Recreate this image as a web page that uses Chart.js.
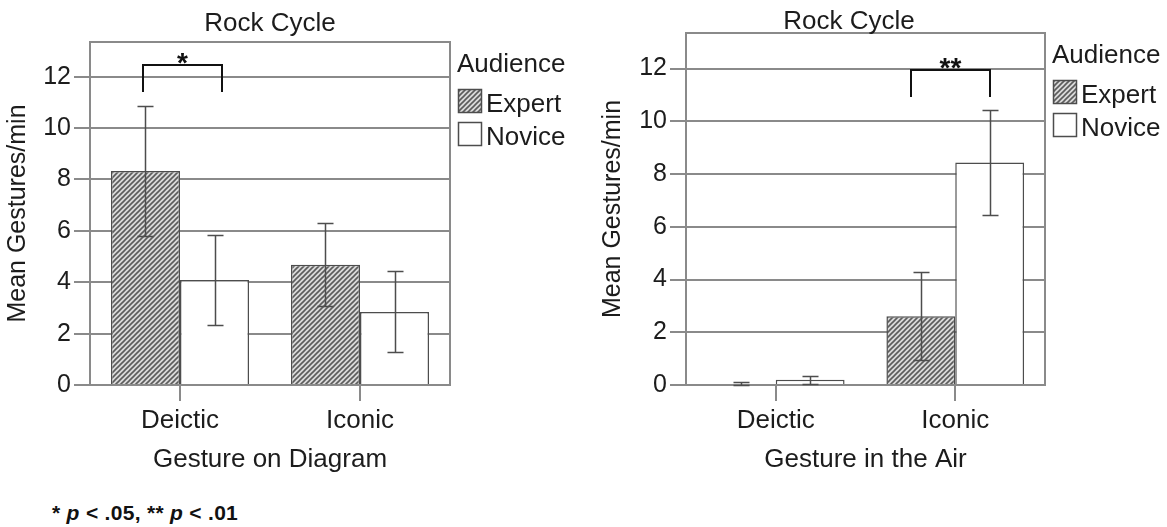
<!DOCTYPE html>
<html>
<head>
<meta charset="utf-8">
<script src="https://cdn.jsdelivr.net/npm/chart.js@4/dist/chart.umd.min.js"></script>
<style>
    body { margin: 0; background: #fff; width: 1167px; height: 527px; position: relative; overflow: hidden; }
    #diagram-wrap { position: absolute; left: 0; top: 0; }
    #air-wrap { position: absolute; left: 580px; top: 0; }
    #footnote {
        position: absolute; left: 52px; top: 502px;
        font: bold 21px/21px "Liberation Sans", Arial, sans-serif;
        letter-spacing: 0.3px;
        color: #111; white-space: pre;
    }
</style>
</head>
<body>
<div id="diagram-wrap"><canvas id="chart-diagram" width="580" height="480"></canvas></div>
<div id="air-wrap"><canvas id="chart-air" width="587" height="480"></canvas></div>
<div id="footnote">* <i>p</i> &lt; .05, ** <i>p</i> &lt; .01</div>
<script>
// Categories / series / ticks
const categories = ["Deictic", "Iconic"];
const seriesNames = ["Expert", "Novice"];
const yTicks = [0, 2, 4, 6, 8, 10, 12];
const yMax = 13.35;

// Gesture on Diagram (means + error bar ends)
const diagramExpert = [8.33, 4.68];
const diagramNovice = [4.09, 2.84];
const diagramExpertLow = [5.78, 3.08];
const diagramExpertHigh = [10.86, 6.32];
const diagramNoviceLow = [2.33, 1.28];
const diagramNoviceHigh = [5.84, 4.42];

// Gesture in the Air
const airExpert = [0.03, 2.61];
const airNovice = [0.2, 8.44];
const airExpertLow = [0, 0.93];
const airExpertHigh = [0.11, 4.28];
const airNoviceLow = [0.05, 6.43];
const airNoviceHigh = [0.34, 10.42];

// Significance brackets (category index, span as fraction of category width, y values)
const diagramBracket = { index: 0, from: -0.204, to: 0.233, top: 12.45, leg: 11.39, label: "*" };
const airBracket = { index: 1, from: -0.245, to: 0.195, top: 11.95, leg: 10.92, label: "**" };

const FONT = '"Liberation Sans", Arial, sans-serif';
const TEXT = "#1c1c1c";
const GRID = "#8a8a8a";
const DARK = "#4d4d4d";

// Diagonal hatch for the Expert bars
function makeHatch(ctx) {
    const s = 5;
    const tile = document.createElement("canvas");
    tile.width = s;
    tile.height = s;
    const g = tile.getContext("2d");
    g.fillStyle = "#dadada";
    g.fillRect(0, 0, s, s);
    g.strokeStyle = "#5c5c5c";
    g.lineWidth = 1.6;
    g.beginPath();
    g.moveTo(-1, s + 1); g.lineTo(s + 1, -1);
    g.moveTo(-1, 1); g.lineTo(1, -1);
    g.moveTo(s - 1, s + 1); g.lineTo(s + 1, s - 1);
    g.stroke();
    return ctx.createPattern(tile, "repeat");
}

// Frame, error bars, bracket, legend and title
const decor = {
    id: "decor",
    afterDatasetsDraw(chart, args, opts) {
        const ctx = chart.ctx;
        const area = chart.chartArea;
        const x = chart.scales.x;
        const y = chart.scales.y;
        ctx.save();

        // frame
        ctx.strokeStyle = GRID;
        ctx.lineWidth = 2;
        ctx.strokeRect(Math.round(area.left), Math.round(area.top),
            Math.round(area.right - area.left), Math.round(area.bottom - area.top));

        // error bars
        ctx.strokeStyle = DARK;
        ctx.lineWidth = 1.5;
        chart.data.datasets.forEach((ds, di) => {
            chart.getDatasetMeta(di).data.forEach((bar, i) => {
                const bx = Math.round(bar.x) + 0.5;
                const lo = Math.round(y.getPixelForValue(ds.errLow[i])) + 0.5;
                const hi = Math.round(y.getPixelForValue(ds.errHigh[i])) + 0.5;
                ctx.beginPath();
                ctx.moveTo(bx, lo); ctx.lineTo(bx, hi);
                ctx.moveTo(bx - 8, lo); ctx.lineTo(bx + 8, lo);
                ctx.moveTo(bx - 8, hi); ctx.lineTo(bx + 8, hi);
                ctx.stroke();
            });
        });

        // significance bracket
        const b = opts.bracket;
        const catW = (area.right - area.left) / categories.length;
        const cx = x.getPixelForValue(b.index);
        const x1 = Math.round(cx + b.from * catW);
        const x2 = Math.round(cx + b.to * catW);
        const yt = Math.round(y.getPixelForValue(b.top));
        const yl = Math.round(y.getPixelForValue(b.leg));
        ctx.strokeStyle = "#111";
        ctx.lineWidth = 2;
        ctx.beginPath();
        ctx.moveTo(x1, yl); ctx.lineTo(x1, yt); ctx.lineTo(x2, yt); ctx.lineTo(x2, yl);
        ctx.stroke();
        ctx.fillStyle = "#111";
        ctx.font = "bold 28px " + FONT;
        ctx.textAlign = "center";
        ctx.textBaseline = "alphabetic";
        ctx.fillText(b.label, (x1 + x2) / 2, yt + 7);
        ctx.restore();
    },
    afterDraw(chart, args, opts) {
        const ctx = chart.ctx;
        const area = chart.chartArea;
        ctx.save();

        // title
        ctx.fillStyle = TEXT;
        ctx.font = "26px " + FONT;
        ctx.textAlign = "center";
        ctx.textBaseline = "middle";
        ctx.fillText(opts.title, (area.left + area.right) / 2 + opts.titleDx, opts.titleY);

        // legend
        const lx = Math.round(area.right);
        const ly = Math.round(area.top);
        ctx.textAlign = "left";
        ctx.fillText("Audience", lx + 7, ly + 23);
        const swatchTop = [ly + 47, ly + 80];
        const labelMid = [ly + 62.5, ly + 96];
        chart.data.datasets.forEach((ds, di) => {
            ctx.fillStyle = ds.backgroundColor;
            ctx.fillRect(lx + 8, swatchTop[di], 24, 24);
            ctx.strokeStyle = DARK;
            ctx.lineWidth = 1.5;
            ctx.strokeRect(lx + 8.5, swatchTop[di] + 0.5, 23, 23);
            ctx.fillStyle = TEXT;
            ctx.fillText(seriesNames[di], lx + 36, labelMid[di]);
        });
        ctx.restore();
    }
};

function buildChart(canvasId, xTitle, series, bracket, frame) {
    const canvas = document.getElementById(canvasId);
    const hatch = makeHatch(canvas.getContext("2d"));
    return new Chart(canvas, {
        type: "bar",
        data: {
            labels: categories,
            datasets: [{
                label: seriesNames[0],
                data: series.expert,
                errLow: series.expertLow,
                errHigh: series.expertHigh,
                backgroundColor: hatch,
                borderColor: DARK,
                borderWidth: 1.5
            }, {
                label: seriesNames[1],
                data: series.novice,
                errLow: series.noviceLow,
                errHigh: series.noviceHigh,
                backgroundColor: "#ffffff",
                borderColor: DARK,
                borderWidth: 1.5
            }]
        },
        options: {
            responsive: false,
            animation: false,
            events: [],
            categoryPercentage: 0.767,
            barPercentage: 1,
            layout: { padding: { top: frame.top, right: frame.right, bottom: 1, left: 0 } },
            plugins: {
                legend: { display: false },
                tooltip: { enabled: false },
                title: { display: false },
                decor: { bracket: bracket, title: "Rock Cycle", titleY: frame.titleY, titleDx: frame.titleDx }
            },
            scales: {
                x: {
                    offset: true,
                    grid: { display: true, drawOnChartArea: false, drawTicks: true, tickLength: 16, offset: false, color: GRID, lineWidth: 2 },
                    border: { display: false },
                    ticks: { font: { family: FONT, size: 26 }, color: TEXT, padding: 4, maxRotation: 0 },
                    title: { display: true, text: xTitle, color: TEXT, font: { family: FONT, size: 26, lineHeight: 1.2 }, padding: { top: 10, bottom: 4 } },
                    afterFit(scale) { scale.height = 94; }
                },
                y: {
                    min: 0,
                    max: yMax,
                    grid: { color: GRID, lineWidth: 2, drawTicks: true, tickLength: 16 },
                    border: { display: false },
                    afterBuildTicks(scale) { scale.ticks = yTicks.map(v => ({ value: v })); },
                    ticks: { font: { family: FONT, size: 25 }, color: TEXT, padding: 3 },
                    title: { display: true, text: "Mean Gestures/min", color: TEXT, font: { family: FONT, size: 25, lineHeight: 1.2 }, padding: { top: frame.yTitlePad, bottom: 0 } },
                    afterFit(scale) { scale.width = frame.yWidth; }
                }
            }
        },
        plugins: [decor]
    });
}

buildChart("chart-diagram", "Gesture on Diagram", {
    expert: diagramExpert, novice: diagramNovice,
    expertLow: diagramExpertLow, expertHigh: diagramExpertHigh,
    noviceLow: diagramNoviceLow, noviceHigh: diagramNoviceHigh
}, diagramBracket, { top: 42, right: 130, yWidth: 90, yTitlePad: 3, titleY: 23.5, titleDx: 0 });

buildChart("chart-air", "Gesture in the Air", {
    expert: airExpert, novice: airNovice,
    expertLow: airExpertLow, expertHigh: airExpertHigh,
    noviceLow: airNoviceLow, noviceHigh: airNoviceHigh
}, airBracket, { top: 33, right: 122, yWidth: 106, yTitlePad: 18, titleY: 21.5, titleDx: -16.5 });
</script>
</body>
</html>
